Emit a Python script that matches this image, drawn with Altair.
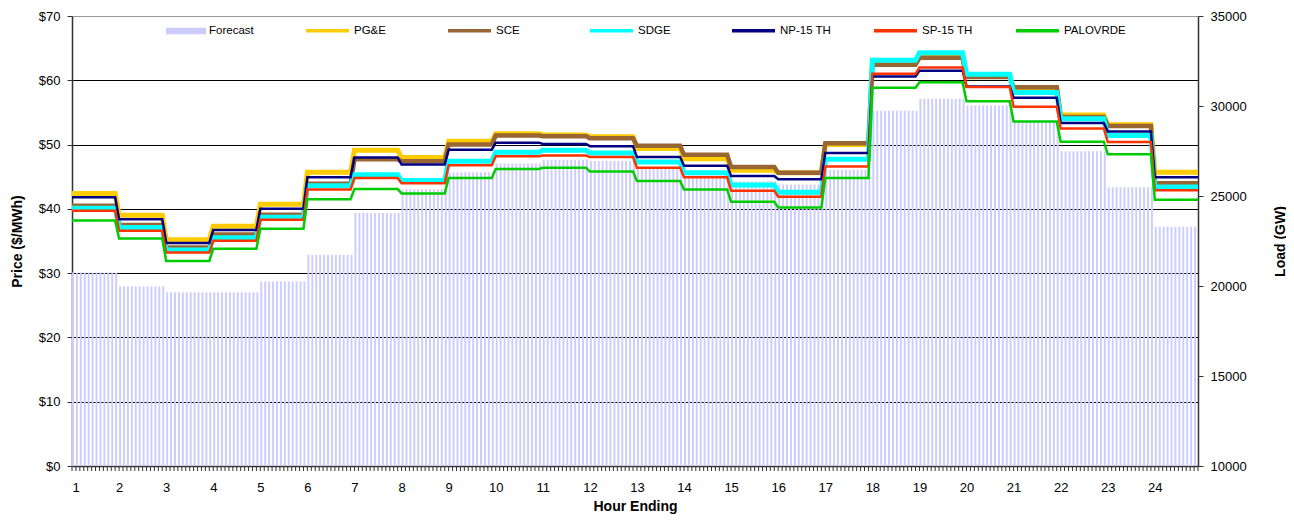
import altair as alt
import pandas as pd

FONT = "Liberation Sans"

HOURS = list(range(1, 25))
STEPS_PER_HOUR = 12

SERIES = ["PG&E", "SCE", "SDGE", "NP-15 TH", "SP-15 TH", "PALOVRDE"]

PGE = [42.4, 39.0, 35.2, 37.3, 40.7, 45.7, 49.1, 48.0, 50.5, 51.7, 51.5, 51.2,
       49.4, 47.8, 46.0, 45.6, 50.0, 62.6, 63.6, 60.6, 58.7, 54.6, 53.1, 45.7]
SCE = [40.5, 37.5, 34.0, 36.0, 39.1, 43.9, 47.7, 47.4, 50.0, 51.4, 51.3, 51.0,
       49.8, 48.4, 46.5, 45.6, 50.2, 62.4, 63.5, 60.5, 58.9, 54.3, 52.9, 44.0]
SDGE = [40.1, 37.1, 33.6, 35.5, 38.7, 43.6, 45.3, 44.4, 47.4, 48.8, 49.1, 48.7,
        47.3, 45.6, 43.7, 42.6, 47.7, 63.1, 64.3, 60.95, 58.1, 54.0, 51.4, 43.4]
NP15 = [41.8, 38.4, 34.7, 36.7, 40.0, 44.9, 48.0, 46.9, 49.2, 50.3, 50.1, 49.75,
        48.05, 46.7, 45.1, 44.6, 48.7, 60.6, 61.5, 59.05, 57.3, 53.35, 52.05, 44.9]
SP15 = [39.7, 36.6, 33.2, 35.05, 38.3, 43.0, 44.8, 44.0, 46.8, 48.2, 48.3, 48.05,
        46.4, 44.9, 42.8, 41.9, 46.6, 61.0, 62.0, 58.95, 55.9, 52.5, 50.4, 42.9]
PALO = [38.2, 35.4, 31.9, 33.8, 36.9, 41.5, 43.1, 42.4, 44.8, 46.2, 46.4, 45.8,
        44.35, 43.0, 41.1, 40.2, 44.8, 58.85, 59.7, 56.75, 53.6, 50.45, 48.5, 41.4]

LOAD = [20750, 19980, 19650, 19650, 20250, 21730, 24060, 25370, 26320, 26800, 27020, 26940,
        26500, 26150, 25820, 25640, 26450, 29740, 30400, 30030, 29170, 27480, 25490, 23290]

PRICE_VALUES = [PGE, SCE, SDGE, NP15, SP15, PALO]
COLORS = ["#FFCC00", "#996633", "#00FFFF", "#000080", "#FF3300", "#00CC00"]
WIDTHS = [5, 4.5, 5, 2.5, 2.5, 2.5]
BAR_COLOR = "#CCCCFF"

# ---- tables (each hourly value held for the 12 five-minute steps of its hour)
load_rows = []
for h, v in zip(HOURS, LOAD):
    for k in range(STEPS_PER_HOUR):
        load_rows.append({"i": (h - 1) * STEPS_PER_HOUR + k, "load": v, "series": "Forecast"})
load_df = pd.DataFrame(load_rows)

price_tables = []
for name, vals in zip(SERIES, PRICE_VALUES):
    rows = []
    for h, v in zip(HOURS, vals):
        for k in range(STEPS_PER_HOUR):
            rows.append({"i": (h - 1) * STEPS_PER_HOUR + k, "price": v, "series": name})
    price_tables.append(pd.DataFrame(rows))

W, H = 1126, 450
N = len(HOURS) * STEPS_PER_HOUR

x_scale = alt.Scale(domain=[0, N - 1], nice=False, zero=False)
x_axis = alt.Axis(
    values=[(h - 1) * STEPS_PER_HOUR for h in HOURS],
    labelExpr="datum.value / 12 + 1",
    ticks=False, grid=False,
    domainColor="#333333", domainWidth=1.5,
    labelFont=FONT, labelFontSize=13, labelColor="black", labelPadding=15,
    title="Hour Ending", titleFont=FONT, titleFontSize=14, titleFontWeight="bold",
    titleColor="black", titleY=40, titleBaseline="middle",
)

price_axis = alt.Axis(
    orient="left", values=list(range(0, 71, 10)), labelExpr="'$' + datum.value",
    grid=True,
    gridColor=alt.condition("datum.value >= 70", alt.value("#999999"), alt.value("#000000")),
    gridWidth=1, tickSize=5, tickColor="#333333",
    domainColor="#333333", domainWidth=1.5,
    labelFont=FONT, labelFontSize=13, labelColor="black", labelPadding=7,
    title="Price ($/MWh)", titleFont=FONT, titleFontSize=14, titleFontWeight="bold",
    titleColor="black", titleX=-55, titleY=H / 2, titleAngle=270,
    titleAlign="center", titleBaseline="middle",
)
price_scale = alt.Scale(domain=[0, 70], nice=False)

load_axis = alt.Axis(
    orient="right", values=list(range(10000, 35001, 5000)), format="d",
    grid=False, tickSize=5, tickColor="#333333",
    domainColor="#333333", domainWidth=1.5,
    labelFont=FONT, labelFontSize=13, labelColor="black", labelPadding=7,
    title="Load (GW)", titleFont=FONT, titleFontSize=14, titleFontWeight="bold",
    titleColor="black", titleX=82, titleY=H / 2, titleAngle=270,
    titleAlign="center", titleBaseline="middle",
)
load_scale = alt.Scale(domain=[10000, 35000], nice=False, zero=False)

bars = alt.Chart(load_df).transform_calculate(
    i2="datum.i + 0.5"
).mark_bar(clip=True).encode(
    x=alt.X("i:Q", scale=x_scale, axis=x_axis),
    x2="i2:Q",
    y=alt.Y("load:Q", scale=load_scale, axis=load_axis),
    y2=alt.datum(10000),
    fill=alt.Fill(
        "series:N",
        scale=alt.Scale(domain=["Forecast"], range=[BAR_COLOR]),
        legend=alt.Legend(
            orient="none", legendX=94, legendY=-5, title=None, padding=0,
            symbolType="M-1,-0.16H1V0.16H-1Z", symbolSize=1600, symbolStrokeWidth=0,
            labelFont=FONT, labelFontSize=11.5, labelColor="black", labelOffset=3,
        ),
    ),
)

minor_ticks = alt.Chart(load_df).mark_rule(color="#333333", strokeWidth=1).encode(
    x=alt.X("i:Q", scale=x_scale, axis=x_axis),
    y=alt.value(H),
    y2=alt.value(H + 5),
)

stroke_scale = alt.Scale(domain=SERIES, range=COLORS)
stroke_legend = alt.Legend(
    orient="none", legendX=232, legendY=-9, title=None, padding=0,
    direction="horizontal", columns=6, columnPadding=25, gridAlign="all",
    symbolType="stroke", symbolSize=1849, symbolStrokeWidth=3.5,
    labelFont=FONT, labelFontSize=11.5, labelColor="black", labelOffset=3,
)

line_layers = []
for df, w in zip(price_tables, WIDTHS):
    line_layers.append(
        alt.Chart(df).mark_line(strokeWidth=w, interpolate="linear").encode(
            x=alt.X("i:Q", scale=x_scale, axis=x_axis),
            y=alt.Y("price:Q", scale=price_scale, axis=price_axis),
            stroke=alt.Stroke("series:N", scale=stroke_scale, legend=stroke_legend),
        )
    )
lines = alt.layer(*line_layers)

chart = alt.layer(bars, minor_ticks, lines).resolve_scale(
    y="independent"
).properties(
    width=W, height=H,
    autosize=alt.AutoSizeParams(type="none"),
    padding={"left": 64, "top": 8, "right": 88, "bottom": 49},
).configure_view(
    stroke="#999999", strokeWidth=1
).configure(background="white")

chart.save("out.html", embed_options={"renderer": "svg", "actions": False})
